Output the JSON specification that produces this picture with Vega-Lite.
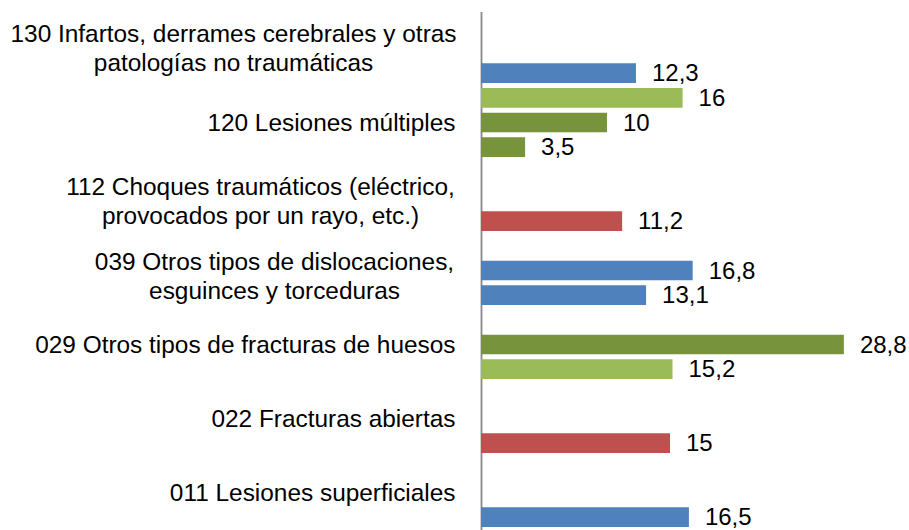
{
  "$schema": "https://vega.github.io/schema/vega-lite/v6.json",
  "autosize": "none",
  "padding": {"left": 481, "top": 11.5, "right": 50, "bottom": 0},
  "width": 378,
  "height": 518,
  "background": "white",
  "config": {
    "view": {"stroke": null},
    "locale": {"number": {"decimal": ",", "thousands": ".", "grouping": [3], "currency": ["", " €"]}}
  },
  "data": {
    "values": [
      {"categoria": "130 Infartos, derrames cerebrales y otras patologías no traumáticas", "serie": 3, "grupo": "A", "valor": 12.3},
      {"categoria": "120 Lesiones múltiples", "serie": 1, "grupo": "B", "valor": 16},
      {"categoria": "120 Lesiones múltiples", "serie": 2, "grupo": "C", "valor": 10},
      {"categoria": "120 Lesiones múltiples", "serie": 3, "grupo": "C", "valor": 3.5},
      {"categoria": "112 Choques traumáticos (eléctrico, provocados por un rayo, etc.)", "serie": 3, "grupo": "D", "valor": 11.2},
      {"categoria": "039 Otros tipos de dislocaciones, esguinces y torceduras", "serie": 2, "grupo": "A", "valor": 16.8},
      {"categoria": "039 Otros tipos de dislocaciones, esguinces y torceduras", "serie": 3, "grupo": "A", "valor": 13.1},
      {"categoria": "029 Otros tipos de fracturas de huesos", "serie": 2, "grupo": "C", "valor": 28.8},
      {"categoria": "029 Otros tipos de fracturas de huesos", "serie": 3, "grupo": "B", "valor": 15.2},
      {"categoria": "022 Fracturas abiertas", "serie": 3, "grupo": "D", "valor": 15},
      {"categoria": "011 Lesiones superficiales", "serie": 3, "grupo": "A", "valor": 16.5}
    ]
  },
  "encoding": {
    "y": {
      "field": "categoria",
      "type": "nominal",
      "sort": null,
      "scale": {"paddingInner": 0, "paddingOuter": 0},
      "axis": {
        "title": null,
        "ticks": false,
        "grid": false,
        "domainColor": "#888888",
        "domainWidth": 1.8,
        "labelFont": "Liberation Sans",
        "labelFontSize": 24.4,
        "labelColor": "#000000",
        "labelLineHeight": 29,
        "labelLimit": 0,
        "labelBaseline": "middle",
        "labelAlign": {"condition": {"test": "datum.value == '130 Infartos, derrames cerebrales y otras patologías no traumáticas' || datum.value == '112 Choques traumáticos (eléctrico, provocados por un rayo, etc.)' || datum.value == '039 Otros tipos de dislocaciones, esguinces y torceduras'", "value": "center"}, "value": "right"},
        "labelPadding": {"condition": [
          {"test": "datum.value == '130 Infartos, derrames cerebrales y otras patologías no traumáticas'", "value": 248},
          {"test": "datum.value == '112 Choques traumáticos (eléctrico, provocados por un rayo, etc.)'", "value": 221},
          {"test": "datum.value == '039 Otros tipos de dislocaciones, esguinces y torceduras'", "value": 207}
        ], "value": 26},
        "labelOffset": {"condition": [
          {"test": "datum.value == '130 Infartos, derrames cerebrales y otras patologías no traumáticas'", "value": -14},
          {"test": "datum.value == '112 Choques traumáticos (eléctrico, provocados por un rayo, etc.)'", "value": -9},
          {"test": "datum.value == '039 Otros tipos de dislocaciones, esguinces y torceduras'", "value": -8}
        ], "value": 1},
        "labelExpr": "datum.label == '130 Infartos, derrames cerebrales y otras patologías no traumáticas' ? ['130 Infartos, derrames cerebrales y otras', 'patologías no traumáticas'] : datum.label == '112 Choques traumáticos (eléctrico, provocados por un rayo, etc.)' ? ['112 Choques traumáticos (eléctrico,', 'provocados por un rayo, etc.)'] : datum.label == '039 Otros tipos de dislocaciones, esguinces y torceduras' ? ['039 Otros tipos de dislocaciones,', 'esguinces y torceduras'] : datum.label"
      }
    },
    "yOffset": {
      "field": "serie",
      "type": "ordinal",
      "scale": {"domain": [1, 2, 3], "paddingInner": 0.2, "paddingOuter": 0.1}
    },
    "x": {
      "field": "valor",
      "type": "quantitative",
      "scale": {"domain": [0, 30], "nice": false},
      "axis": null
    }
  },
  "layer": [
    {
      "mark": {"type": "bar"},
      "encoding": {
        "color": {
          "field": "grupo",
          "type": "nominal",
          "scale": {"domain": ["A", "B", "C", "D"], "range": ["#4F81BD", "#9BBB59", "#77933C", "#C0504D"]},
          "legend": null
        }
      }
    },
    {
      "mark": {"type": "text", "align": "left", "baseline": "middle", "dx": 16, "dy": 1, "font": "Liberation Sans", "fontSize": 24, "color": "#000000"},
      "encoding": {
        "text": {"field": "valor", "type": "quantitative", "format": ".1~f"}
      }
    }
  ]
}
